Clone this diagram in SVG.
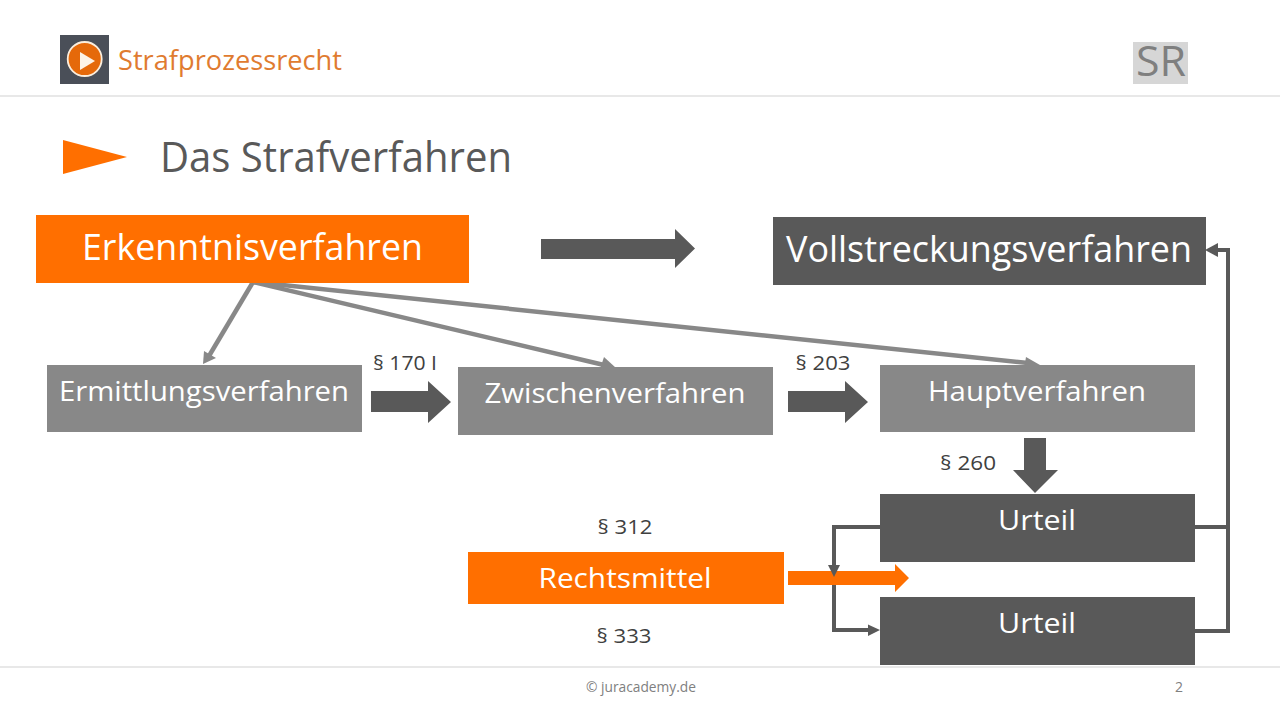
<svg xmlns="http://www.w3.org/2000/svg" width="1280" height="720" viewBox="0 0 1280 720">
<style>
text{font-family:"Open Sans","Noto Sans","Liberation Sans",sans-serif;text-anchor:middle}
.w{fill:#fff}
.l{fill:#404040;font-size:20px}
.c{fill:none;stroke:#595959;stroke-width:4}
.g{fill:none;stroke:#888;stroke-width:4.500}
.dk{fill:#595959}.md{fill:#888}.or{fill:#ff6f00}
</style>
<rect width="1280" height="720" fill="#fff"/>
<g id="header">
<rect x="60" y="35" width="49" height="49" fill="#4a4f58"/>
<circle cx="84.700" cy="59" r="17" fill="#e5690a" stroke="#fbeedd" stroke-width="1.800"/>
<polygon points="80,52 80,70 95,61" fill="#fdf3e6"/>
<text x="230" y="70" font-size="28" fill="#e07b30" textLength="224" lengthAdjust="spacingAndGlyphs">Strafprozessrecht</text>
<rect x="1133" y="42" width="55" height="42" fill="#d6d6d6"/>
<text x="1161" y="76" font-size="42" fill="#7f7f7f" textLength="50" lengthAdjust="spacingAndGlyphs">SR</text>
<rect x="0" y="95" width="1280" height="2" fill="#e8e8e8"/>
</g>
<g id="title">
<polygon points="63,140 127,157 63,174" class="or"/>
<text x="336" y="172" font-size="42" fill="#595959" textLength="352" lengthAdjust="spacingAndGlyphs">Das Strafverfahren</text>
</g>
<g id="connectors">
<polygon points="541,239 675,239 675,229 695,248.500 675,268 675,259 541,259" class="dk"/>
<polyline points="253,282 209,356" class="g"/>
<polygon points="203,364 204,351 216,358" class="md"/>
<polyline points="253,282 604,365" class="g"/>
<polygon points="616,368 600,369 604,357" class="md"/>
<polyline points="253,282 1028,363" class="g"/>
<polygon points="1040,365 1024,369 1026,357" class="md"/>
<polygon points="371,391 428,391 428,381 451,402 428,423 428,412 371,412" class="dk"/>
<polygon points="788,391 845,391 845,381 868,402 845,423 845,412 788,412" class="dk"/>
<polygon points="1024,438 1046,438 1046,470 1058,470 1035,493 1013,470 1024,470" class="dk"/>
<polyline points="1195,527 1228,527" class="c"/>
<polyline points="1195,631 1228,631 1228,250 1216,250" class="c"/>
<polygon points="1205,250 1218,243 1218,257" class="dk"/>
<polygon points="788,571 895,571 895,564 909,578 895,592 895,585 788,585" class="or"/>
<polyline points="880,527 834,527 834,566" class="c"/>
<polygon points="834,577 828,565 840,565" class="dk"/>
<polyline points="834,585 834,630 870,630" class="c"/>
<polygon points="880,630 868,624.500 868,636" class="dk"/>
</g>
<g id="erkenntnis"><rect x="36" y="215" width="433" height="68" class="or"/><text x="252.500" y="260" font-size="36" class="w" textLength="341" lengthAdjust="spacingAndGlyphs">Erkenntnisverfahren</text></g>
<g id="vollstreckung"><rect x="773" y="217" width="433" height="68" class="dk"/><text x="989" y="262" font-size="36" class="w" textLength="406" lengthAdjust="spacingAndGlyphs">Vollstreckungsverfahren</text></g>
<g id="ermittlung"><rect x="47" y="365" width="315" height="67" class="md"/><text x="204" y="401" font-size="28" class="w" textLength="290" lengthAdjust="spacingAndGlyphs">Ermittlungsverfahren</text></g>
<g id="zwischen"><rect x="458" y="367" width="315" height="68" class="md"/><text x="615" y="403" font-size="28" class="w" textLength="261" lengthAdjust="spacingAndGlyphs">Zwischenverfahren</text></g>
<g id="haupt"><rect x="880" y="365" width="315" height="67" class="md"/><text x="1037" y="401" font-size="28" class="w" textLength="218" lengthAdjust="spacingAndGlyphs">Hauptverfahren</text></g>
<g id="urteil1"><rect x="880" y="494" width="315" height="68" class="dk"/><text x="1037" y="530" font-size="28" class="w" textLength="78" lengthAdjust="spacingAndGlyphs">Urteil</text></g>
<g id="urteil2"><rect x="880" y="597" width="315" height="68" class="dk"/><text x="1037" y="633" font-size="28" class="w" textLength="78" lengthAdjust="spacingAndGlyphs">Urteil</text></g>
<g id="rechtsmittel"><rect x="468" y="552" width="316" height="52" class="or"/><text x="625" y="588" font-size="28" class="w" textLength="173" lengthAdjust="spacingAndGlyphs">Rechtsmittel</text></g>
<g id="labels">
<text x="405" y="370" class="l" textLength="64" lengthAdjust="spacingAndGlyphs">§ 170 I</text>
<text x="823" y="370" class="l" textLength="55" lengthAdjust="spacingAndGlyphs">§ 203</text>
<text x="968" y="470" class="l" textLength="56" lengthAdjust="spacingAndGlyphs">§ 260</text>
<text x="625" y="534" class="l" textLength="55" lengthAdjust="spacingAndGlyphs">§ 312</text>
<text x="624" y="643" class="l" textLength="55" lengthAdjust="spacingAndGlyphs">§ 333</text>
</g>
<g id="footer">
<rect x="0" y="666" width="1280" height="2" fill="#e8e8e8"/>
<text x="641" y="692" font-size="14" fill="#808080" textLength="110" lengthAdjust="spacingAndGlyphs">© juracademy.de</text>
<text x="1179" y="692" font-size="14" fill="#808080">2</text>
</g>
</svg>
